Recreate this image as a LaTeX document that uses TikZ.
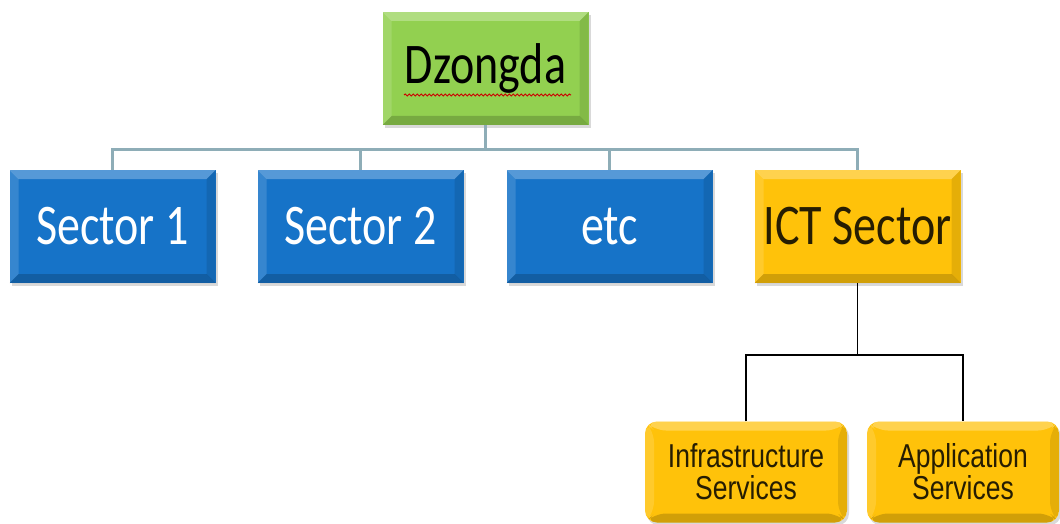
\documentclass[tikz,border=0pt]{standalone}
\usepackage{fontspec}
\usepackage{graphicx}
\setmainfont{Carlito}
\newfontfamily\arialf{Liberation Sans}
\usetikzlibrary{shadows,decorations.pathmorphing}
\newcommand{\tallt}[1]{\scalebox{1}[1.25]{#1}}
\definecolor{bluebox}{HTML}{1673C8}
\definecolor{greenbox}{HTML}{92D050}
\definecolor{yellowbox}{HTML}{FFC20A}
\definecolor{linkgrey}{HTML}{8EADB7}
\tikzset{
  bevel/.style={path picture={
    \fill[white,opacity=.28] (path picture bounding box.north west) -- (path picture bounding box.north east) -- ([xshift=-9pt,yshift=-9pt]path picture bounding box.north east) -- ([xshift=9pt,yshift=-9pt]path picture bounding box.north west) -- cycle;
    \fill[white,opacity=.14] (path picture bounding box.north west) -- (path picture bounding box.south west) -- ([xshift=9pt,yshift=9pt]path picture bounding box.south west) -- ([xshift=9pt,yshift=-9pt]path picture bounding box.north west) -- cycle;
    \fill[black,opacity=.18] (path picture bounding box.south west) -- (path picture bounding box.south east) -- ([xshift=-9pt,yshift=9pt]path picture bounding box.south east) -- ([xshift=9pt,yshift=9pt]path picture bounding box.south west) -- cycle;
    \fill[black,opacity=.10] (path picture bounding box.north east) -- (path picture bounding box.south east) -- ([xshift=-9pt,yshift=9pt]path picture bounding box.south east) -- ([xshift=-9pt,yshift=-9pt]path picture bounding box.north east) -- cycle;
  }},
  bigbox/.style={bevel, drop shadow={opacity=.3,shadow xshift=2pt,shadow yshift=-3pt},
    minimum width=206pt, minimum height=113pt, inner sep=0pt,
    font=\fontsize{46}{50}\selectfont},
  sectorbox/.style={bigbox, fill=bluebox, text=white},
  topbox/.style={bigbox, fill=greenbox, text=black},
  ictbox/.style={bigbox, fill=yellowbox, text=black!85!yellowbox},
  servbox/.style={bevel, drop shadow={opacity=.3,shadow xshift=2pt,shadow yshift=-3pt},
    fill=yellowbox, rounded corners=12pt, minimum height=101pt, inner sep=0pt,
    align=center, text=black!85!yellowbox,
    font=\arialf\fontsize{26.5}{32}\selectfont},
  upper/.style={draw=linkgrey, line width=3pt},
  lower/.style={draw=black, line width=1.8pt},
}
\begin{document}
\begin{tikzpicture}[x=1pt,y=-1pt]
\useasboundingbox (0,0) rectangle (1060,524);
\node[topbox] (dz) at (485.5,68.5) {\tallt{Dzongda}};
\node[sectorbox] (s1) at (112.5,226.5) {\tallt{Sector 1}};
\node[sectorbox] (s2) at (360.5,226.5) {\tallt{Sector 2}};
\node[sectorbox] (etc) at (609.5,226.5) {\tallt{etc}};
\node[ictbox] (ict) at (857.5,226.5) {\tallt{ICT Sector}};
\node[servbox, minimum width=202pt] (inf) at (746,472) {\tallt{Infrastructure}\\\tallt{Services}};
\node[servbox, minimum width=192pt] (app) at (963,472) {\tallt{Application}\\\tallt{Services}};
\coordinate (bus) at (485.5,150);
\coordinate (bus2) at (857.5,355);
% spell-check squiggle
\draw[red!80!black, line width=1pt, decorate, decoration={snake, amplitude=1pt, segment length=4pt}] (404,95) -- (571,95);
% upper connectors
\draw[upper] (dz.south) -- (bus);
\draw[upper] (s1.north) |- (bus) -| (ict.north);
\draw[upper] (s2.north) -- (s2.north |- bus);
\draw[upper] (etc.north) -- (etc.north |- bus);
% lower connectors
\draw[lower] (ict.south) -- (bus2);
\draw[lower] (inf.north) |- (bus2) -| (app.north);
\end{tikzpicture}
\end{document}
